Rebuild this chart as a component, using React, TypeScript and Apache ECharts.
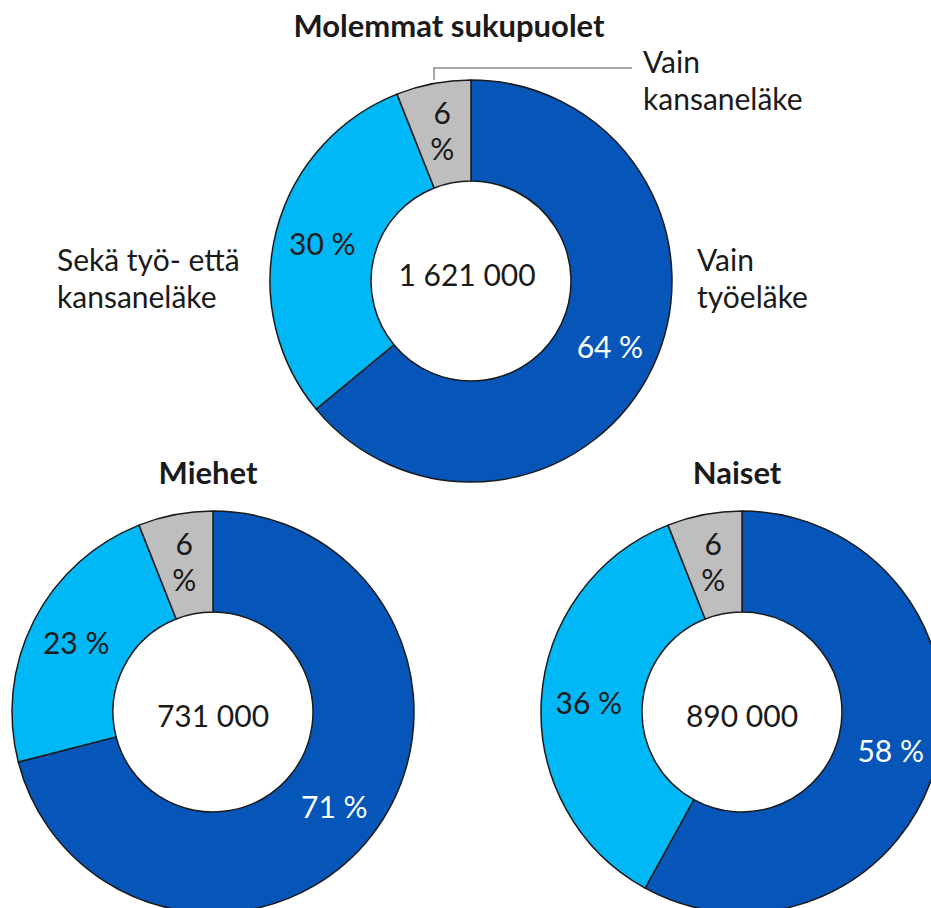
import React, { useEffect, useRef } from "react";
import * as echarts from "echarts";

const categories = ["Vain työeläke", "Sekä työ- että kansaneläke", "Vain kansaneläke"];
const bothValues = [64, 30, 6];
const menValues = [71, 23, 6];
const womenValues = [58, 36, 6];
const totals = ["1 621 000", "731 000", "890 000"];
const panelTitles = ["Molemmat sukupuolet", "Miehet", "Naiset"];
const sliceColors = ["#0556B8", "#00B8F5", "#BEBEBE"];
const labelColors = ["#ffffff", "#1a1a1a", "#1a1a1a"];

const FONT = "Lato, 'Open Sans', sans-serif";
const FS = 30;

function makeSeries(values: number[], center: [number, number]) {
  return {
    type: "pie",
    center,
    radius: [100, 201],
    startAngle: 90,
    clockwise: true,
    silent: true,
    emphasis: { disabled: true },
    itemStyle: { borderColor: "#1a1a1a", borderWidth: 1.5 },
    label: {
      show: true,
      position: "inside",
      fontFamily: FONT,
      fontSize: FS,
      lineHeight: 36,
      formatter: (p: any) => (p.dataIndex === 2 ? `${p.value}\n%` : `${p.value} %`),
    },
    labelLine: { show: false },
    data: values.map((v, i) => ({
      name: categories[i],
      value: v,
      itemStyle: { color: sliceColors[i] },
      label: { color: labelColors[i] },
    })),
  };
}

export default function App() {
  const ref = useRef<HTMLDivElement>(null);
  useEffect(() => {
    document.body.style.margin = "0";
    const chart = echarts.init(ref.current!, null, { renderer: "svg" });
    const centers: [number, number][] = [
      [471, 281],
      [213, 712],
      [742, 712],
    ];
    const txt = (text: string, x: number, y: number, opts: any = {}) => ({
      type: "text",
      x,
      y,
      silent: true,
      style: {
        text,
        fontFamily: FONT,
        fontSize: opts.bold ? 31 : FS,
        fill: "#1a1a1a",
        textAlign: opts.align || "center",
        textVerticalAlign: "middle",
        fontWeight: opts.bold ? "bold" : "normal",
        lineHeight: 37,
      },
      z: 10,
    });
    chart.setOption({
      animation: false,
      backgroundColor: "#ffffff",
      series: [
        makeSeries(bothValues, centers[0]),
        makeSeries(menValues, centers[1]),
        makeSeries(womenValues, centers[2]),
      ],
      graphic: [
        txt(panelTitles[0], 449, 25, { bold: true }),
        txt(panelTitles[1], 208, 472, { bold: true }),
        txt(panelTitles[2], 737, 472, { bold: true }),
        txt(totals[0], centers[0][0] - 4, centers[0][1] - 7),
        txt(totals[1], centers[1][0], centers[1][1] + 3),
        txt(totals[2], centers[2][0], centers[2][1] + 3),
        txt("Vain\ntyöeläke", 697, 277, { align: "left" }),
        txt("Sekä työ- että\nkansaneläke", 57, 277, { align: "left" }),
        txt("Vain\nkansaneläke", 643, 79, { align: "left" }),
        {
          type: "polyline",
          silent: true,
          shape: { points: [[434, 80], [434, 68], [632, 68]] },
          style: { stroke: "#8c8c8c", lineWidth: 1.5, fill: null },
          z: 5,
        },
      ],
    });
    return () => chart.dispose();
  }, []);
  return <div ref={ref} style={{ width: 931, height: 908 }} />;
}
